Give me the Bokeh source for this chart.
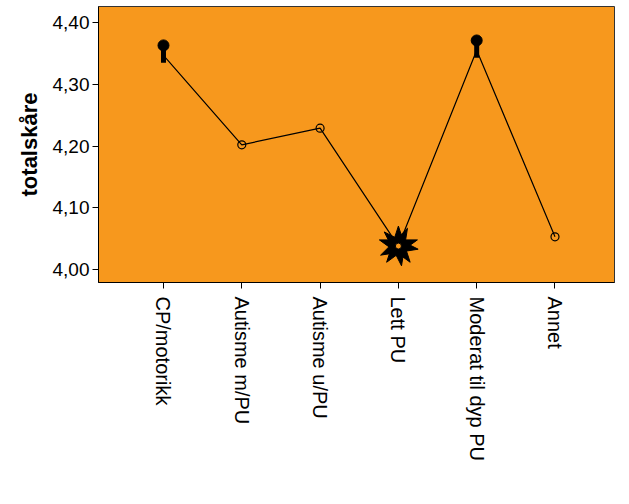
import math
from bokeh.plotting import figure
from bokeh.models import FixedTicker, ColumnDataSource
from bokeh.embed import file_html
from bokeh.resources import INLINE

categories = ["CP/motorikk", "Autisme m/PU", "Autisme u/PU", "Lett PU", "Moderat til dyp PU", "Annet"]
values = [4.347, 4.202, 4.229, 4.038, 4.355, 4.053]
y_ticks = [4.00, 4.10, 4.20, 4.30, 4.40]
y_tick_labels = ["4,00", "4,10", "4,20", "4,30", "4,40"]
# marker style per point: "circle", "star", "spike"
marker_kind = ["spike", "circle", "circle", "star", "spike", "circle"]

xs = list(range(1, len(categories) + 1))
src = ColumnDataSource(dict(x=xs, y=values))

p = figure(width=629, height=504, output_backend="svg", toolbar_location=None,
           x_range=(0.17, 6.76), y_range=(3.979, 4.426),
           min_border_left=98, min_border_right=15, min_border_top=6, min_border_bottom=222)
p.background_fill_color = "#F7981D"
p.border_fill_color = "white"
p.outline_line_color = "#333333"
p.outline_line_width = 1
p.xgrid.visible = False
p.ygrid.visible = False

p.line("x", "y", source=src, line_color="black", line_width=1.2)

ci = [i for i, k in enumerate(marker_kind) if k == "circle"]
p.scatter([xs[i] for i in ci], [values[i] for i in ci], marker="circle", size=8,
          fill_color=None, line_color="black", line_width=1.2)

si = [i for i, k in enumerate(marker_kind) if k == "star"]
sx = [xs[i] for i in si]
sy = [values[i] for i in si]
for ang in [0, math.pi / 4]:
    p.scatter(sx, sy, marker="star", size=40, angle=ang,
              fill_color="black", line_color="black")
p.scatter(sx, sy, marker="circle", size=6, fill_color="#F7981D", line_color="black")

ki = [i for i, k in enumerate(marker_kind) if k == "spike"]
kx = [xs[i] for i in ki]
ky = [values[i] for i in ki]
p.scatter(kx, ky, marker="dash", angle=math.pi / 2, size=15, line_width=5, line_color="black")
p.scatter(kx, [v + 0.016 for v in ky], marker="circle", size=11,
          fill_color="black", line_color="black")

p.xaxis.ticker = FixedTicker(ticks=xs)
p.xaxis.major_label_overrides = {x: c for x, c in zip(xs, categories)}
p.xaxis.major_label_orientation = -math.pi / 2
p.yaxis.ticker = FixedTicker(ticks=y_ticks)
p.yaxis.major_label_overrides = {t: l for t, l in zip(y_ticks, y_tick_labels)}
p.yaxis.axis_label = "totalskåre"

for ax in (p.xaxis, p.yaxis):
    ax.axis_line_color = "black"
    ax.major_tick_line_color = "black"
    ax.major_tick_out = 6
    ax.major_tick_in = 0
    ax.minor_tick_line_color = None
    ax.major_label_text_font = "Liberation Sans"
    ax.major_label_text_color = "black"

p.xaxis.major_label_text_font_size = "20px"
p.xaxis.major_label_standoff = 8
p.yaxis.major_label_text_font_size = "19px"
p.yaxis.major_label_standoff = 3

p.yaxis.axis_label_text_font = "Liberation Sans"
p.yaxis.axis_label_text_font_style = "bold"
p.yaxis.axis_label_text_font_size = "22px"
p.yaxis.axis_label_text_color = "black"
p.yaxis.axis_label_standoff = 8

open("out.html", "w").write(file_html(p, INLINE))
